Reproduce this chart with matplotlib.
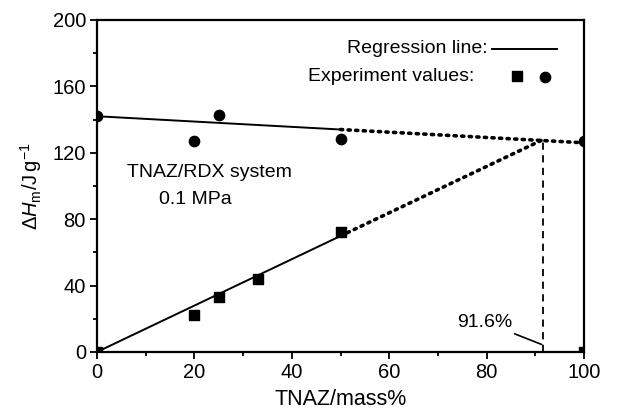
import numpy as np
import matplotlib
matplotlib.use('Agg')
import matplotlib.pyplot as plt
from matplotlib.ticker import MultipleLocator

plt.rcParams['font.family'] = ['Liberation Sans', 'DejaVu Sans']
plt.rcParams['mathtext.fontset'] = 'custom'
plt.rcParams['mathtext.rm'] = 'Liberation Sans'
plt.rcParams['mathtext.it'] = 'Liberation Sans:italic'

# datos
x_circulos = [0, 20, 25, 50, 100]
y_circulos = [142, 127, 143, 128, 127]
x_cuadros = [0, 20, 25, 33, 50, 100]
y_cuadros = [0, 22, 33, 44, 72, 0]

# rectas de regresion (ordenada, pendiente)
recta_rdx = (142.0, -0.16)
recta_tnaz = (0.0, 1.397)
x_eutectico = 91.6

fig = plt.figure(figsize=(6.3, 4.16), dpi=100)
ax = fig.add_axes([0.154, 0.154, 0.773, 0.798])

def recta(r, x):
    return r[0] + r[1] * np.asarray(x)

xs = np.array([0, 50])
ax.plot(xs, recta(recta_rdx, xs), color='black', lw=1.4)
ax.plot(xs, recta(recta_tnaz, xs), color='black', lw=1.4)

punteado = (0, (0.6, 1.5))
xd = np.array([50, 100])
ax.plot(xd, recta(recta_rdx, xd), color='black', lw=2.6, linestyle=punteado, dash_capstyle='round')
xd2 = np.array([50, x_eutectico])
ax.plot(xd2, recta(recta_tnaz, xd2), color='black', lw=2.6, linestyle=punteado, dash_capstyle='round')

y_cruce = recta(recta_tnaz, x_eutectico)
ax.plot([x_eutectico, x_eutectico], [0, y_cruce], color='black', lw=1.3, linestyle=(0, (4, 3)))

ax.scatter(x_circulos, y_circulos, marker='o', s=55, color='black', zorder=5)
ax.scatter(x_cuadros, y_cuadros, marker='s', s=50, color='black', zorder=5)

ax.annotate('91.6%', xy=(91.3, 4.5), xytext=(85.3, 18), fontsize=14, ha='right', va='center',
            arrowprops=dict(arrowstyle='-', color='black', lw=1.2, shrinkA=1, shrinkB=0))

ax.text(6.2, 108, 'TNAZ/RDX system', fontsize=14, ha='left', va='center')
ax.text(12.7, 92, '0.1 MPa', fontsize=14, ha='left', va='center')

# leyenda hecha a mano
ax.text(80.2, 183, 'Regression line:', fontsize=14, ha='right', va='center')
ax.plot([81.2, 94.5], [182.5, 182.5], color='black', lw=1.4)
ax.text(77.5, 166, 'Experiment values:', fontsize=14, ha='right', va='center')
ax.scatter([86.2], [166], marker='s', s=50, color='black')
ax.scatter([92], [165.5], marker='o', s=55, color='black')

ax.set_xlim(0, 100)
ax.set_ylim(0, 200)
ax.xaxis.set_major_locator(MultipleLocator(20))
ax.xaxis.set_minor_locator(MultipleLocator(10))
ax.yaxis.set_major_locator(MultipleLocator(40))
ax.yaxis.set_minor_locator(MultipleLocator(20))
ax.tick_params(which='major', direction='out', length=5, width=1.3, labelsize=14.5, pad=3)
ax.tick_params(which='minor', direction='out', length=3, width=1.3)
for s in ax.spines.values():
    s.set_linewidth(1.6)

ax.set_xlabel('TNAZ/mass%', fontsize=15.5, labelpad=5)
ax.set_ylabel(r'$\Delta\mathit{H}_{\rm m}$/J$\,$g$^{-1}$', fontsize=14.5, labelpad=6)

fig.savefig('out.png', dpi=100)
